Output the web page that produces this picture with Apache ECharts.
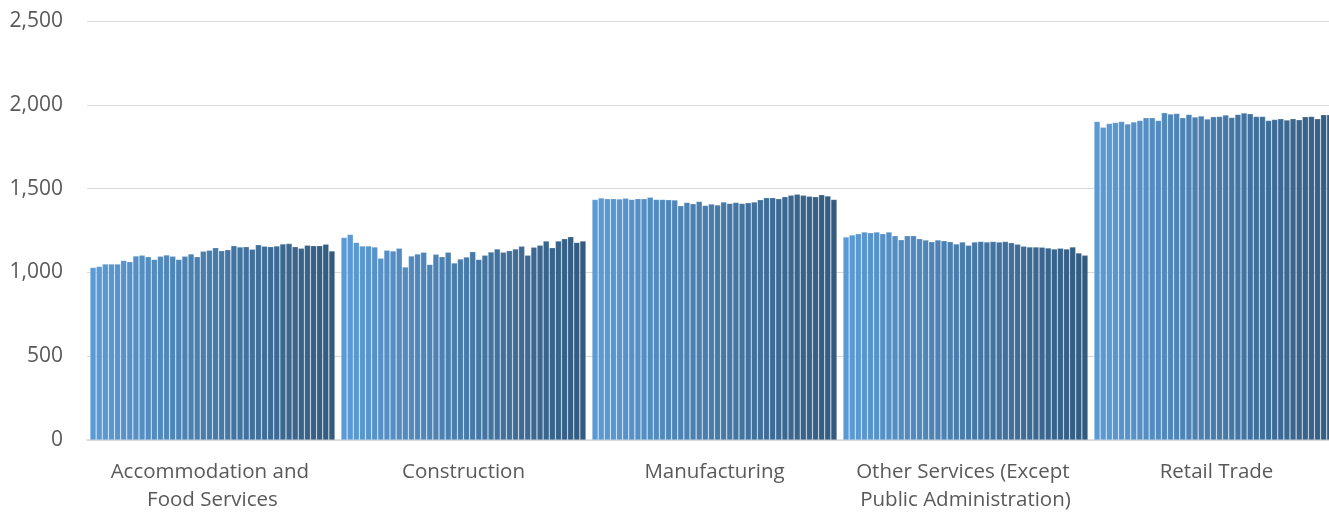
<!DOCTYPE html>
<html>
<head>
<meta charset="utf-8">
<script src="https://cdn.jsdelivr.net/npm/echarts@6/dist/echarts.min.js"></script>
<style>html,body{margin:0;padding:0;background:#fff}#c{width:1329px;height:512px}</style>
</head>
<body>
<div id="c"></div>
<script>
const categories = ["Accommodation and Food Services", "Construction", "Manufacturing", "Other Services (Except Public Administration)", "Retail Trade"];
const yTicks = [0, 500, 1000, 1500, 2000, 2500];

const accommodation = [1030,1036,1050,1050,1050,1072,1064,1098,1102,1094,1078,1096,1104,1096,1078,1096,1110,1094,1126,1132,1148,1130,1136,1160,1152,1154,1138,1166,1156,1154,1158,1170,1172,1154,1144,1162,1160,1160,1168,1128];
const construction = [1209,1227,1179,1158,1158,1152,1084,1132,1128,1144,1032,1098,1110,1120,1048,1108,1094,1120,1056,1080,1092,1124,1078,1102,1122,1140,1120,1130,1140,1156,1102,1150,1162,1187,1148,1187,1201,1213,1179,1187];
const manufacturing = [1436,1444,1440,1440,1438,1442,1436,1440,1440,1448,1436,1436,1434,1432,1398,1418,1410,1424,1400,1408,1402,1420,1412,1418,1412,1416,1420,1434,1446,1446,1440,1452,1460,1466,1460,1454,1452,1464,1456,1436];
const otherServices = [1211,1223,1231,1241,1237,1241,1231,1241,1219,1195,1219,1219,1201,1193,1183,1193,1189,1183,1170,1181,1162,1181,1185,1181,1185,1181,1185,1177,1168,1156,1152,1152,1150,1146,1140,1144,1140,1152,1116,1102];
const retail = [1901,1866,1888,1894,1901,1886,1898,1907,1923,1923,1907,1953,1945,1949,1923,1943,1927,1933,1915,1929,1931,1939,1925,1943,1951,1947,1931,1931,1907,1913,1917,1909,1917,1911,1929,1931,1917,1941,1941,1940];

const groups = [accommodation, construction, manufacturing, otherServices, retail];
const nSeries = accommodation.length;

function lerpColor(a, b, t) {
  const pa = [parseInt(a.slice(1,3),16), parseInt(a.slice(3,5),16), parseInt(a.slice(5,7),16)];
  const pb = [parseInt(b.slice(1,3),16), parseInt(b.slice(3,5),16), parseInt(b.slice(5,7),16)];
  return 'rgb(' + pa.map((v,i)=>Math.round(v + (pb[i]-v)*t)).join(',') + ')';
}

const series = [];
for (let i = 0; i < nSeries; i++) {
  series.push({
    name: 'Series ' + (i + 1),
    type: 'bar',
    data: groups.map(g => g[i]),
    barGap: '0%',
    barCategoryGap: '2.4%',
    itemStyle: {
      color: lerpColor('#5B9BD5', '#335B80', i / (nSeries - 1)),
      borderColor: 'rgba(255,255,255,0.35)',
      borderWidth: 0.6
    },
    silent: true,
    animation: false
  });
}

const chart = echarts.init(document.getElementById('c'), null, {renderer: 'canvas'});
chart.setOption({
  animation: false,
  grid: {left: 87, right: -13, top: 21, bottom: 72, containLabel: false, outerBoundsMode: 'none'},
  xAxis: {
    type: 'category',
    data: categories,
    axisLine: {show: true, lineStyle: {color: '#D9D9D9', width: 1.5}},
    axisTick: {show: false},
    axisLabel: {
      color: '#595959', fontFamily: 'Open Sans', fontSize: 20.5,
      width: 225, overflow: 'break', lineHeight: 28, margin: 18, interval: 0
    }
  },
  yAxis: {
    type: 'value',
    min: yTicks[0], max: yTicks[yTicks.length - 1], interval: 500,
    axisLine: {show: false},
    axisTick: {show: false},
    splitLine: {lineStyle: {color: '#D9D9D9', width: 1.2}},
    axisLabel: {
      color: '#595959', fontFamily: 'Open Sans', fontSize: 21, margin: 24,
      formatter: v => v.toLocaleString('en-US')
    }
  },
  series: series
});
</script>
</body>
</html>
